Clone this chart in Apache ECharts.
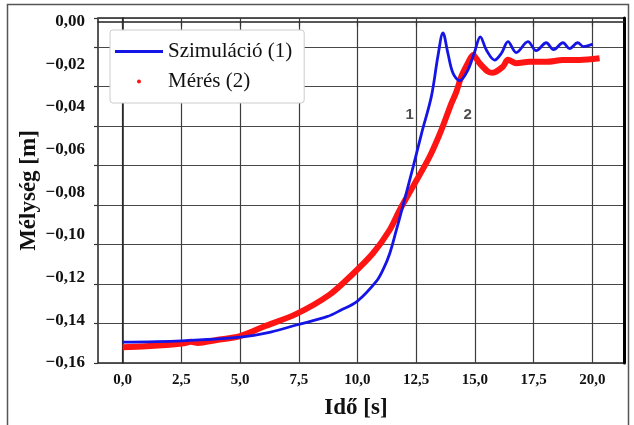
<!DOCTYPE html>
<html>
<head>
<meta charset="utf-8">
<script src="https://cdn.jsdelivr.net/npm/echarts@6/dist/echarts.min.js"></script>
<style>
  html, body { margin: 0; padding: 0; background: #fff; }
  #chart { width: 634px; height: 425px; }
</style>
</head>
<body>
<div id="chart"></div>
<script>
// ---- data ----
const simTime = [0, 2.5, 5.0, 6.3, 7.4, 8.7, 9.3, 10.0, 10.8, 11.1, 11.37, 11.66, 11.94, 12.37, 12.73, 13.15, 13.43, 13.64, 13.85, 14.07, 14.35, 14.70, 14.99, 15.23, 15.49, 15.84, 16.13, 16.41, 16.76, 17.26, 17.61, 18.04, 18.35, 18.75, 19.03, 19.38, 19.63, 20.02];
const simDepth = [-0.1502, -0.1496, -0.1479, -0.1455, -0.1422, -0.1383, -0.1352, -0.1310, -0.1218, -0.1160, -0.1088, -0.0975, -0.0862, -0.0681, -0.0524, -0.0350, -0.0160, -0.0054, -0.0149, -0.0243, -0.0278, -0.0228, -0.0142, -0.0072, -0.0134, -0.0181, -0.0149, -0.0095, -0.0146, -0.0095, -0.0137, -0.0100, -0.0132, -0.0100, -0.0127, -0.0100, -0.0118, -0.0106];

const measTime = [0, 1.0, 2.0, 2.6, 2.9, 3.2, 4.0, 5.0, 6.0, 7.4, 8.8, 9.8, 10.66, 11.37, 11.80, 12.36, 13.07, 13.57, 14.0, 14.21, 14.42, 14.70, 14.92, 15.20, 15.56, 15.77, 16.19, 16.41, 16.76, 17.33, 18.04, 18.75, 19.46, 20.31];
const measDepth = [-0.1526, -0.1522, -0.1515, -0.1508, -0.1500, -0.1506, -0.1492, -0.1474, -0.1430, -0.1370, -0.1281, -0.1183, -0.1086, -0.0977, -0.0883, -0.0774, -0.0634, -0.0509, -0.0384, -0.0330, -0.0259, -0.0196, -0.0157, -0.0196, -0.0235, -0.0240, -0.0212, -0.0180, -0.0196, -0.0189, -0.0189, -0.0181, -0.0181, -0.0173];

const xTickValues = [0, 2.5, 5, 7.5, 10, 12.5, 15, 17.5, 20];
const yTickValues = [-0.16, -0.14, -0.12, -0.10, -0.08, -0.06, -0.04, -0.02, 0];

const seriesNames = ['Szimuláció (1)', 'Mérés (2)'];
const curveLabels = [
  { name: '1', t: 12.22, d: -0.0438 },
  { name: '2', t: 14.69, d: -0.0438 }
];

// ---- chart ----
const serif = 'Liberation Serif';
const fmtX = v => v.toFixed(1).replace('.', ',');
const fmtY = v => (v < -1e-9 ? '\u2212' : '') + Math.abs(v).toFixed(2).replace('.', ',');

const chart = echarts.init(document.getElementById('chart'), null, { renderer: 'canvas' });

chart.setOption({
  animation: false,
  backgroundColor: '#fff',
  graphic: [{
    type: 'rect',
    shape: { x: 7.5, y: 4.5, width: 621, height: 440 },
    style: { fill: 'none', stroke: '#555', lineWidth: 1.5 },
    silent: true, z: 0
  }],
  grid: {
    left: 98, top: 18, right: 10, bottom: 62,
    show: true, borderColor: '#222', borderWidth: 1.5, backgroundColor: '#fff'
  },
  legend: {
    orient: 'vertical',
    left: 110, top: 30,
    padding: [11, 12, 11, 5],
    itemWidth: 48, itemHeight: 14, itemGap: 9,
    backgroundColor: '#fff',
    borderColor: '#cccccc', borderWidth: 1, borderRadius: 3,
    textStyle: { fontFamily: serif, fontSize: 21, color: '#111' },
    data: [
      { name: seriesNames[0], icon: 'path://M0 0H48V3.2H0Z' },
      { name: seriesNames[1], icon: 'path://M0 0M14 14M7 5.0A2 2 0 1 1 6.99 5.0Z' }
    ]
  },
  xAxis: [{
    type: 'value',
    min: -1.05, max: 21.35,
    name: 'Idő [s]',
    nameLocation: 'middle', nameGap: 34,
    nameMoveOverlap: false,
    nameTextStyle: { fontFamily: serif, fontSize: 23, fontWeight: 'bold', color: '#111', padding: [0, 10, 0, 0] },
    axisLine: { show: true, lineStyle: { color: '#222', width: 1.5 } },
    axisTick: { show: true, customValues: xTickValues, length: 5, lineStyle: { color: '#333', width: 1.2 } },
    axisLabel: { customValues: xTickValues, formatter: fmtX, fontFamily: serif, fontSize: 15, fontWeight: 'bold', color: '#111', margin: 10 },
    splitLine: { show: true, lineStyle: { color: '#3c3c3c', width: 1.2 } }
  }],
  yAxis: [{
    type: 'value',
    min: -0.16, max: 0.0016,
    position: 'left',
    name: 'Mélység [m]',
    nameLocation: 'middle', nameGap: 57,
    nameMoveOverlap: false,
    nameTextStyle: { fontFamily: serif, fontSize: 23, fontWeight: 'bold', color: '#111' },
    axisLine: { show: true, lineStyle: { color: '#222', width: 1.5 } },
    axisTick: { show: false },
    axisLabel: { customValues: yTickValues, formatter: fmtY, fontFamily: serif, fontSize: 17, fontWeight: 'bold', color: '#111', margin: 13 },
    splitLine: { show: false }
  }, {
    type: 'value',
    min: 0, max: 345 / 39.5, interval: 1,
    position: 'left',
    axisLine: { show: false },
    axisLabel: { show: false },
    axisTick: { show: true, length: 4, lineStyle: { color: '#333', width: 1.2 } },
    splitLine: { show: true, lineStyle: { color: '#484848', width: 1.1 } }
  }, {
    type: 'value',
    min: 0, max: 1,
    position: 'right',
    axisLine: { show: true, lineStyle: { color: '#000', width: 3 } },
    axisLabel: { show: false },
    axisTick: { show: false },
    splitLine: { show: false }
  }],
  series: [{
    name: seriesNames[1],
    type: 'line',
    data: measTime.map((t, i) => [t, measDepth[i]]),
    symbol: 'none',
    smooth: 0.3,
    color: '#ff1414',
    itemStyle: { color: '#ff1414' },
    lineStyle: { color: '#ff1414', width: 6 },
    z: 3
  }, {
    name: seriesNames[0],
    type: 'line',
    data: simTime.map((t, i) => [t, simDepth[i]]),
    symbol: 'none',
    smooth: 0.35,
    color: '#1414e6',
    itemStyle: { color: '#1414e6' },
    lineStyle: { color: '#1414e6', width: 2.8 },
    z: 4
  }, {
    name: 'labels',
    type: 'scatter',
    data: curveLabels.map(c => ({ name: c.name, value: [c.t, c.d] })),
    symbolSize: 0,
    silent: true,
    label: {
      show: true, position: 'inside', formatter: p => p.name,
      fontFamily: 'Liberation Sans', fontWeight: 'bold', fontSize: 15, color: '#222'
    },
    z: 5
  }]
});
</script>
</body>
</html>
